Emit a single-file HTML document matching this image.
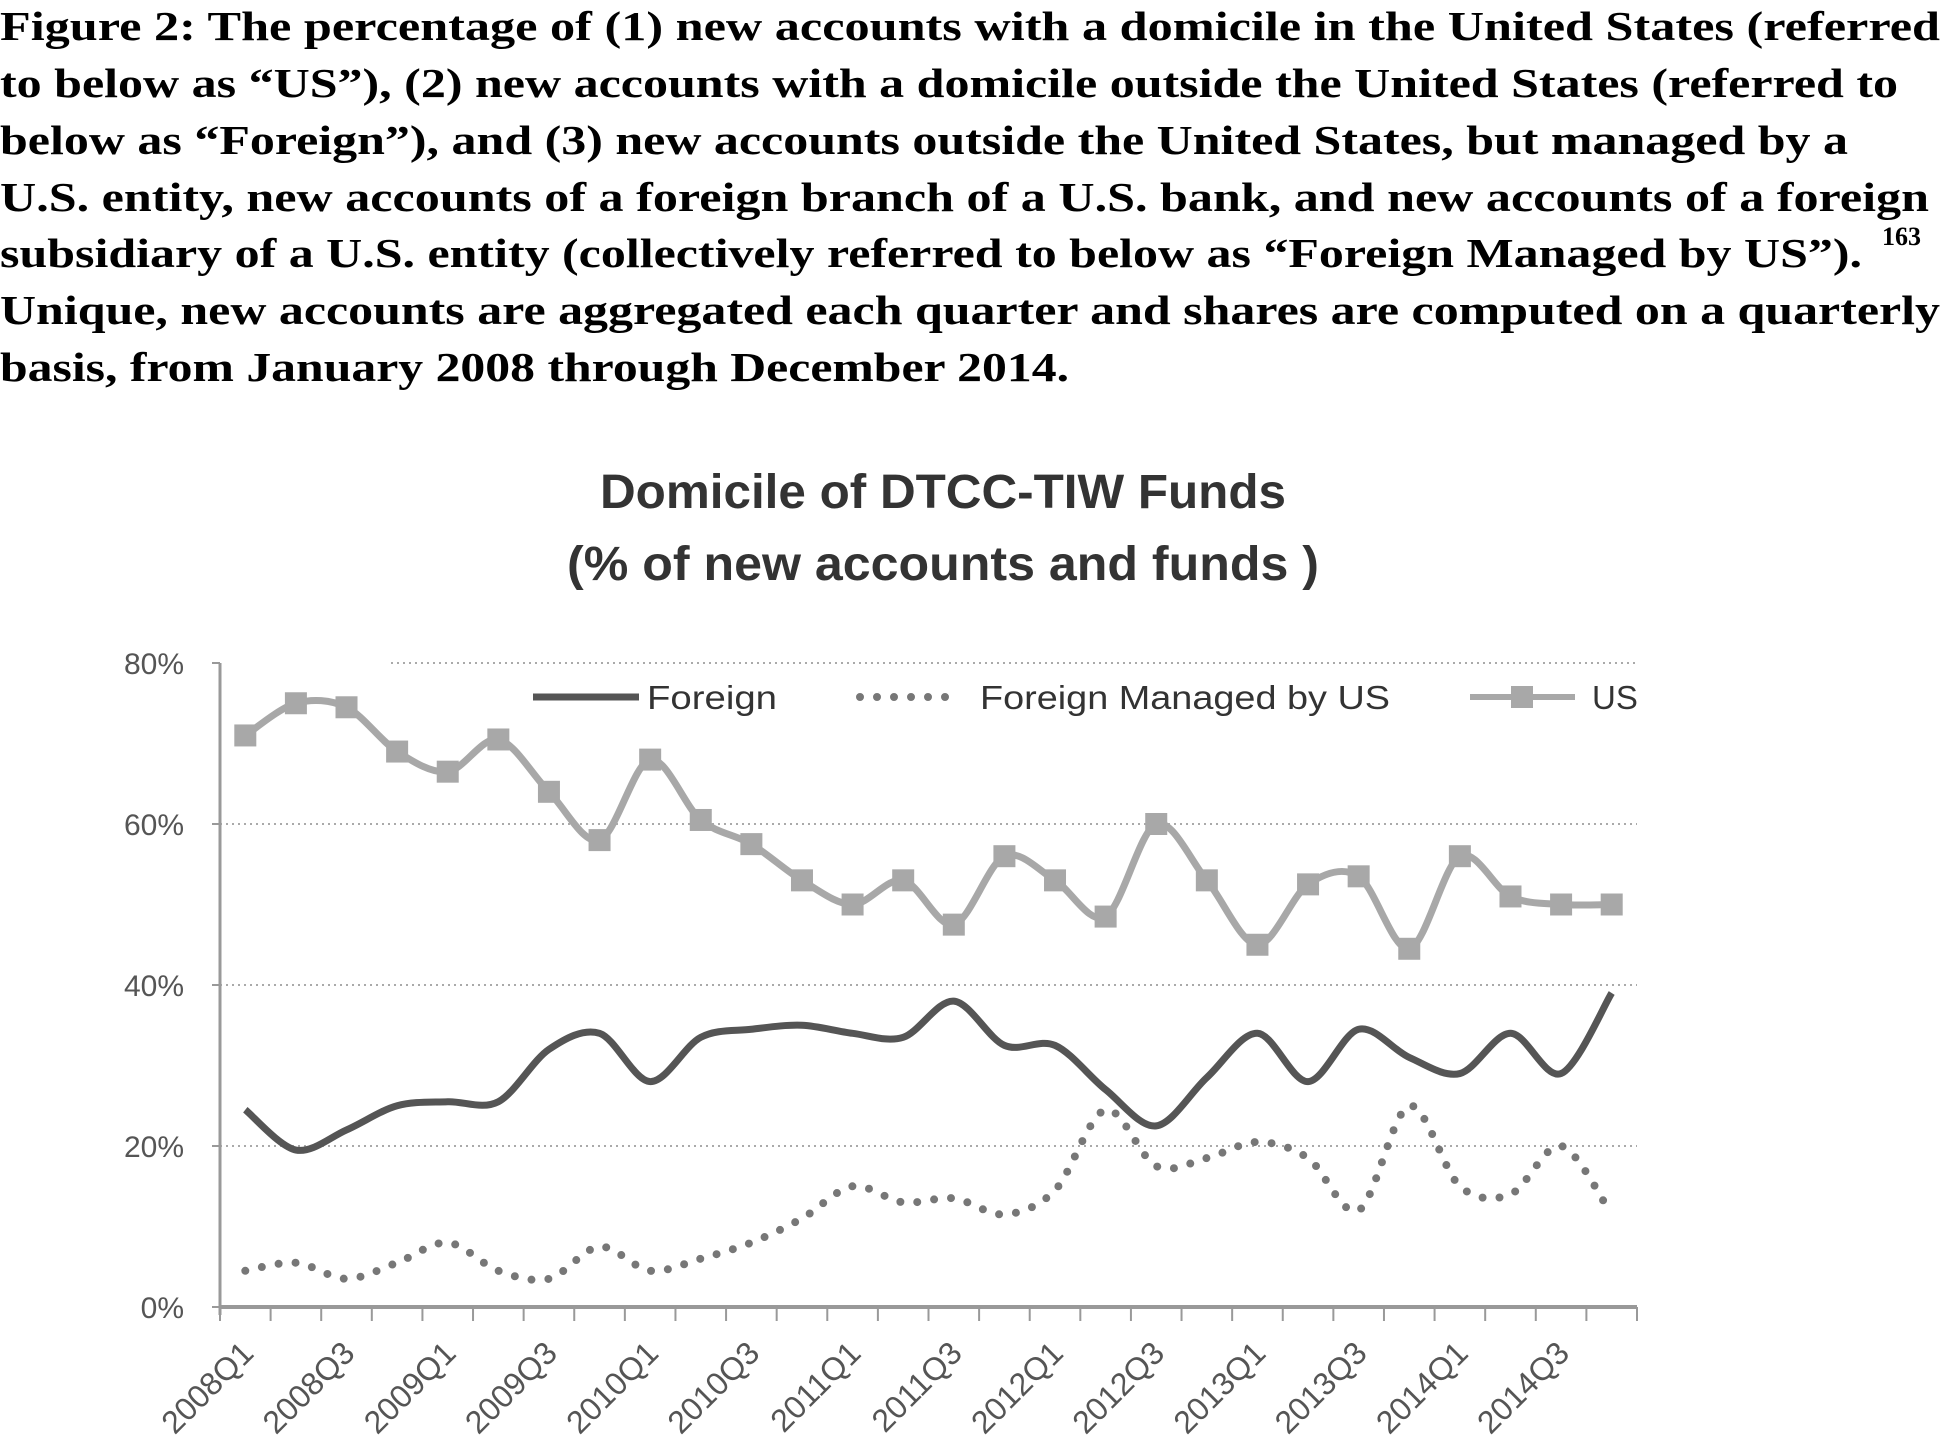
<!DOCTYPE html>
<html><head><meta charset="utf-8"><style>
body{margin:0;background:#fff;}
svg{display:block;}
</style></head><body>
<svg width="1945" height="1454" viewBox="0 0 1945 1454" xmlns="http://www.w3.org/2000/svg">
<g font-family="Liberation Serif, serif" font-weight="bold" font-size="41" fill="#000">
<text x="0" y="40" textLength="1940" lengthAdjust="spacingAndGlyphs">Figure 2:  The percentage of (1) new accounts with a domicile in the United States (referred</text>
<text x="0" y="97" textLength="1898" lengthAdjust="spacingAndGlyphs">to below as “US”), (2) new accounts with a domicile outside the United States (referred to</text>
<text x="0" y="154" textLength="1848" lengthAdjust="spacingAndGlyphs">below as “Foreign”), and (3) new accounts outside the United States, but managed by a</text>
<text x="0" y="211" textLength="1929" lengthAdjust="spacingAndGlyphs">U.S. entity, new accounts of a foreign branch of a U.S. bank, and new accounts of a foreign</text>
<text x="0" y="267" textLength="1862" lengthAdjust="spacingAndGlyphs">subsidiary of a U.S. entity (collectively referred to below as “Foreign Managed by US”).</text>
<text x="1882" y="245" font-size="26">163</text>
<text x="0" y="324" textLength="1940" lengthAdjust="spacingAndGlyphs">Unique, new accounts are aggregated each quarter and shares are computed on a quarterly</text>
<text x="0" y="381" textLength="1069" lengthAdjust="spacingAndGlyphs">basis, from January 2008 through December 2014.</text>
</g>
<g font-family="Liberation Sans, sans-serif" font-weight="bold" font-size="48" fill="#333" text-anchor="middle">
<text x="943" y="508" textLength="686" lengthAdjust="spacingAndGlyphs">Domicile of DTCC-TIW Funds</text>
<text x="943" y="580" textLength="752" lengthAdjust="spacingAndGlyphs">(% of new accounts and funds )</text>
</g>
<g id="grid"></g>
<g id="axes"></g>
<g id="series"></g>
<g font-family="Liberation Sans, sans-serif" font-size="33" fill="#333">
<line x1="533" y1="697" x2="639" y2="697" stroke="#555" stroke-width="7"/>
<text x="647" y="709" textLength="130" lengthAdjust="spacingAndGlyphs">Foreign</text>
<line x1="860" y1="697" x2="961" y2="697" stroke="#777" stroke-width="8" stroke-linecap="round" stroke-dasharray="0 17"/>
<text x="980" y="709" textLength="410" lengthAdjust="spacingAndGlyphs">Foreign Managed by US</text>
<line x1="1470" y1="697" x2="1575" y2="697" stroke="#a8a8a8" stroke-width="6"/>
<rect x="1511" y="686" width="22" height="22" fill="#a8a8a8"/>
<text x="1592" y="709">US</text>
</g>
</svg>
<script>
const categories=["2008Q1","2008Q2","2008Q3","2008Q4","2009Q1","2009Q2","2009Q3","2009Q4","2010Q1","2010Q2","2010Q3","2010Q4","2011Q1","2011Q2","2011Q3","2011Q4","2012Q1","2012Q2","2012Q3","2012Q4","2013Q1","2013Q2","2013Q3","2013Q4","2014Q1","2014Q2","2014Q3","2014Q4"];
const usValues=[71,75,74.5,69,66.5,70.5,64,58,68,60.5,57.5,53,50,53,47.5,56,53,48.5,60,53,45,52.5,53.5,44.5,56,51,50,50];
const foreignValues=[24.5,19.5,22,25,25.5,25.5,32,34,28,33.5,34.5,35,34,33.5,38,32.5,32.5,27,22.5,28.5,34,28,34.5,31,29,34,29,39];
const fmusValues=[4.5,5.5,3.5,5.5,8,4.5,3.5,7.5,4.5,6,8,11,15,13,13.5,11.5,14.5,24.5,17.5,18.5,20.5,18.5,12,25,15,14,20,11.5];
const yTicks=[0,20,40,60,80];
const yTickLabels=["0%","20%","40%","60%","80%"];

const NS="http://www.w3.org/2000/svg";
const X0=220,X1=1637,Y0=1307,Y80=663;
const step=(X1-X0)/categories.length;
function xScale(i){return X0+step*(i+0.5);}
function yScale(v){return Y0-(Y0-Y80)*v/80;}
function mk(tag,attrs,parent){const e=document.createElementNS(NS,tag);for(const k in attrs)e.setAttribute(k,attrs[k]);parent.appendChild(e);return e;}
const grid=document.getElementById('grid'),axes=document.getElementById('axes'),series=document.getElementById('series');

yTicks.forEach((t,i)=>{
  const y=yScale(t);
  if(t>0){
    const g=mk('line',{x1:t===80?391:X0,y1:y,x2:X1,y2:y,stroke:'#aaa','stroke-width':2,'stroke-dasharray':'2 4'},grid);
    
    
  }
  const tk=mk('line',{x1:X0-8,y1:y,x2:X0,y2:y,stroke:'#999','stroke-width':2},axes);
  
  
  const lb=mk('text',{x:184,y:y+11,'text-anchor':'end','font-family':'Liberation Sans, sans-serif','font-size':30,fill:'#555'},axes);
  lb.textContent=yTickLabels[i];
  
  
});
const ya=mk('line',{x1:X0,y1:Y80,x2:X0,y2:Y0+8,stroke:'#999','stroke-width':3},axes);


const xa=mk('line',{x1:X0,y1:Y0,x2:X1,y2:Y0,stroke:'#999','stroke-width':4},axes);


for(let i=0;i<=categories.length;i++){
  const x=X0+step*i;
  const t=mk('line',{x1:x,y1:Y0,x2:x,y2:Y0+14,stroke:'#999','stroke-width':2},axes);
  
  
}
categories.forEach((c,i)=>{
  if(i%2)return;
  const x=xScale(i)+10,y=Y0+48;
  const t=mk('text',{x:x,y:y,'text-anchor':'end','font-family':'Liberation Sans, sans-serif','font-size':32,fill:'#555',transform:`rotate(-45 ${x} ${y})`},axes);
  t.textContent=c;
  
  
});

function smoothPath(vals){
  const p=vals.map((v,i)=>[xScale(i),yScale(v)]);
  let d=`M${p[0][0]},${p[0][1]}`;
  for(let i=0;i<p.length-1;i++){
    const a=p[Math.max(i-1,0)],b=p[i],c=p[i+1],e=p[Math.min(i+2,p.length-1)];
    const k=0.16;
    d+=` C${b[0]+(c[0]-a[0])*k},${b[1]+(c[1]-a[1])*k} ${c[0]-(e[0]-b[0])*k},${c[1]-(e[1]-b[1])*k} ${c[0]},${c[1]}`;
  }
  return d;
}
const fm=mk('path',{d:smoothPath(fmusValues),fill:'none',stroke:'#777','stroke-width':8,'stroke-linecap':'round','stroke-dasharray':'0 17'},series);


const fo=mk('path',{d:smoothPath(foreignValues),fill:'none',stroke:'#555','stroke-width':7},series);


const us=mk('path',{d:smoothPath(usValues),fill:'none',stroke:'#a8a8a8','stroke-width':7},series);


usValues.forEach((v,i)=>{
  const r=mk('rect',{x:xScale(i)-11,y:yScale(v)-11,width:22,height:22,fill:'#a8a8a8'},series);
  
  
});
</script>
</body></html>
